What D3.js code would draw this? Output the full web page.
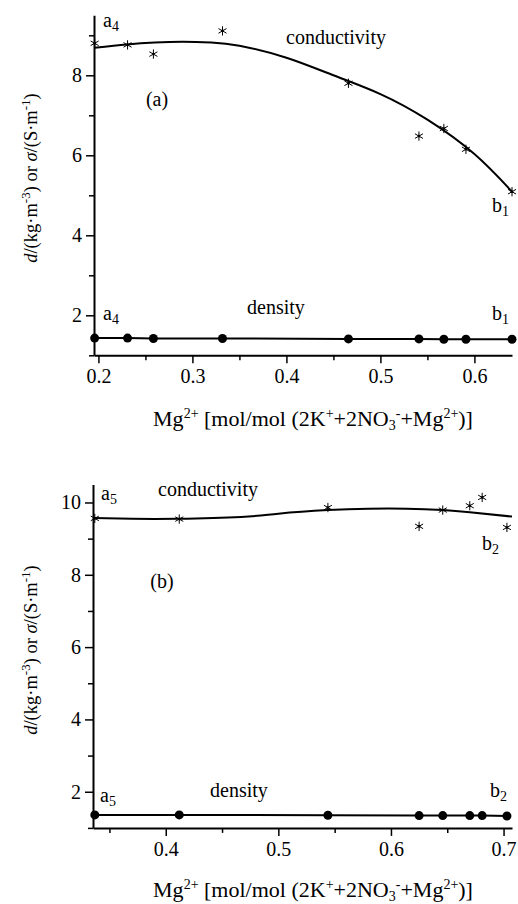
<!DOCTYPE html>
<html>
<head>
<meta charset="utf-8">
<script src="https://cdn.jsdelivr.net/npm/d3@7"></script>
<style>
  body { margin: 0; background: #fff; }
  text { font-family: "Liberation Serif", "Tinos", "Times New Roman", "DejaVu Serif", serif; fill: #000; }
</style>
</head>
<body>
<svg id="chart" width="518" height="904"></svg>
<script>
// panel (a): series a4 -> b1
const xA = [0.196, 0.231, 0.2585, 0.332, 0.466, 0.541, 0.5675, 0.591, 0.640];
const condA = [8.80, 8.76, 8.53, 9.11, 7.80, 6.48, 6.67, 6.15, 5.09];
const densA = [1.43, 1.43, 1.42, 1.42, 1.41, 1.41, 1.40, 1.40, 1.40];
// fitted conductivity curve
const fitXA = [0.196, 0.23, 0.26, 0.29, 0.32, 0.35, 0.40, 0.45, 0.50, 0.55, 0.60, 0.640];
const fitYA = [8.69, 8.77, 8.82, 8.84, 8.82, 8.74, 8.44, 8.00, 7.53, 6.89, 6.03, 5.09];

// panel (b): series a5 -> b2
const xB = [0.337, 0.412, 0.544, 0.625, 0.646, 0.670, 0.681, 0.703];
const condB = [9.56, 9.54, 9.86, 9.34, 9.79, 9.91, 10.14, 9.31];
const densB = [1.36, 1.36, 1.35, 1.34, 1.34, 1.34, 1.34, 1.33];
const fitXB = [0.336, 0.37, 0.41, 0.467, 0.50, 0.544, 0.58, 0.614, 0.646, 0.670, 0.7075];
const fitYB = [9.57, 9.55, 9.55, 9.60, 9.69, 9.79, 9.83, 9.83, 9.79, 9.73, 9.61];

// ticks
const xTicksA = [0.2, 0.3, 0.4, 0.5, 0.6];
const xMinorA = [0.25, 0.35, 0.45, 0.55];
const yTicksA = [2, 4, 6, 8];
const yMinorA = [1, 3, 5, 7, 9];
const xTicksB = [0.4, 0.5, 0.6, 0.7];
const xMinorB = [0.35, 0.45, 0.55, 0.65];
const yTicksB = [2, 4, 6, 8, 10];
const yMinorB = [1, 3, 5, 7, 9];

const svg = d3.select('#chart');

panel({
  xDomain: [0.1953, 0.640], xRange: [94, 512],
  yDomain: [1, 9.5], yRange: [355.3, 15.3],
  xs: xA, cond: condA, dens: densA, fitX: fitXA, fitY: fitYA,
  xTicks: xTicksA, xMinor: xMinorA, yTicks: yTicksA, yMinor: yMinorA,
  tag: '(a)', tagPos: [157, 106], start: '4', end: '1',
  condLabel: [286, 44], startTop: [103, 27], endTop: [492, 212],
  densLabel: [247, 314], startBot: [103, 320], endBot: [492, 320],
  xLabelY: 426, yLabelY: 178
});

panel({
  xDomain: [0.3354, 0.7075], xRange: [93, 512],
  yDomain: [1, 10.5], yRange: [827.9, 484.4],
  xs: xB, cond: condB, dens: densB, fitX: fitXB, fitY: fitYB,
  xTicks: xTicksB, xMinor: xMinorB, yTicks: yTicksB, yMinor: yMinorB,
  tag: '(b)', tagPos: [162, 588], start: '5', end: '2',
  condLabel: [158, 496], startTop: [101, 500], endTop: [482, 550],
  densLabel: [210, 797], startBot: [100, 802], endBot: [490, 797],
  xLabelY: 897, yLabelY: 650
});

function panel(c) {
  let x = d3.scaleLinear().domain(c.xDomain).range(c.xRange);
  let y = d3.scaleLinear().domain(c.yDomain).range(c.yRange);
  let g = svg.append('g');
  let y0 = c.yRange[0];
  let x0 = c.xRange[0];

  // minor ticks first, then the major axis with labels
  g.append('g').attr('transform', 'translate(0,' + y0 + ')')
    .call(d3.axisBottom(x).tickValues(c.xMinor).tickSize(5).tickFormat(''))
    .call((a) => a.select('.domain').remove());
  g.append('g').attr('transform', 'translate(' + x0 + ',0)')
    .call(d3.axisLeft(y).tickValues(c.yMinor).tickSize(5).tickFormat(''))
    .call((a) => a.select('.domain').remove());

  g.append('g').attr('transform', 'translate(0,' + y0 + ')')
    .call(d3.axisBottom(x).tickValues(c.xTicks).tickSize(8).tickSizeOuter(0).tickPadding(6).tickFormat(d3.format('.1f')));
  g.append('g').attr('transform', 'translate(' + x0 + ',0)')
    .call(d3.axisLeft(y).tickValues(c.yTicks).tickSize(8).tickSizeOuter(0).tickPadding(4).tickFormat(d3.format('d')));

  g.selectAll('.tick line').attr('stroke', '#000').attr('stroke-width', 1.5);
  g.selectAll('.domain').attr('stroke', '#000').attr('stroke-width', 2);
  g.selectAll('.tick text').style('font-size', '20px').attr('fill', '#000');

  // fitted conductivity curve
  let fit = c.fitX.map((v, i) => [v, c.fitY[i]]);
  g.append('path').datum(fit)
    .attr('fill', 'none').attr('stroke', '#000').attr('stroke-width', 2)
    .attr('d', d3.line().x((d) => x(d[0])).y((d) => y(d[1])).curve(d3.curveNatural));

  // density line
  let dens = c.xs.map((v, i) => [v, c.dens[i]]);
  g.append('path').datum(dens)
    .attr('fill', 'none').attr('stroke', '#000').attr('stroke-width', 2)
    .attr('d', d3.line().x((d) => x(d[0])).y((d) => y(d[1])));

  // asterisks for conductivity
  let star = d3.symbol(d3.symbolAsterisk).size(60);
  g.selectAll('.star').data(c.xs).enter().append('path')
    .attr('transform', (d, i) => 'translate(' + x(d) + ',' + y(c.cond[i]) + ')')
    .attr('d', star).attr('fill', 'none').attr('stroke', '#000').attr('stroke-width', 1);
  g.selectAll('.stardot').data(c.xs).enter().append('circle')
    .attr('cx', (d) => x(d)).attr('cy', (d, i) => y(c.cond[i])).attr('r', 1.3).attr('fill', '#000');

  // dots for density
  g.selectAll('.dot').data(c.xs).enter().append('circle')
    .attr('cx', (d) => x(d)).attr('cy', (d, i) => y(c.dens[i])).attr('r', 4.5).attr('fill', '#000');

  // labels
  label(g, c.condLabel, 'conductivity');
  label(g, c.densLabel, 'density');
  label(g, c.tagPos, c.tag).style('text-anchor', 'middle');
  sub(g, c.startTop, 'a', c.start);
  sub(g, c.startBot, 'a', c.start);
  sub(g, c.endTop, 'b', c.end);
  sub(g, c.endBot, 'b', c.end);

  // x axis title
  let t = g.append('text').attr('x', 313).attr('y', c.xLabelY).style('text-anchor', 'middle').style('font-size', '22px');
  t.append('tspan').text('Mg');
  t.append('tspan').attr('dy', -8).style('font-size', '14px').text('2+');
  t.append('tspan').attr('dy', 8).text(' [mol/mol (2K');
  t.append('tspan').attr('dy', -8).style('font-size', '14px').text('+');
  t.append('tspan').attr('dy', 8).text('+2NO');
  t.append('tspan').attr('dy', 4).style('font-size', '14px').text('3');
  t.append('tspan').attr('dy', -12).style('font-size', '14px').text('-');
  t.append('tspan').attr('dy', 8).text('+Mg');
  t.append('tspan').attr('dy', -8).style('font-size', '14px').text('2+');
  t.append('tspan').attr('dy', 8).text(')]');

  // y axis title
  let yt = g.append('text').attr('transform', 'translate(37,' + c.yLabelY + ') rotate(-90)')
    .style('text-anchor', 'middle').style('font-size', '18.5px');
  yt.append('tspan').style('font-style', 'italic').text('d');
  yt.append('tspan').text('/(kg·m');
  yt.append('tspan').attr('dy', -7).style('font-size', '13px').text('-3');
  yt.append('tspan').attr('dy', 7).text(') or ');
  yt.append('tspan').style('font-style', 'italic').text('σ');
  yt.append('tspan').text('/(S·m');
  yt.append('tspan').attr('dy', -7).style('font-size', '13px').text('-1');
  yt.append('tspan').attr('dy', 7).text(')');
}

function label(g, pos, txt) {
  return g.append('text').attr('x', pos[0]).attr('y', pos[1]).style('font-size', '20px').text(txt);
}

function sub(g, pos, letter, n) {
  let t = g.append('text').attr('x', pos[0]).attr('y', pos[1]).style('font-size', '20px');
  t.append('tspan').text(letter);
  t.append('tspan').attr('dy', 4).style('font-size', '14px').text(n);
  return t;
}
</script>
</body>
</html>
